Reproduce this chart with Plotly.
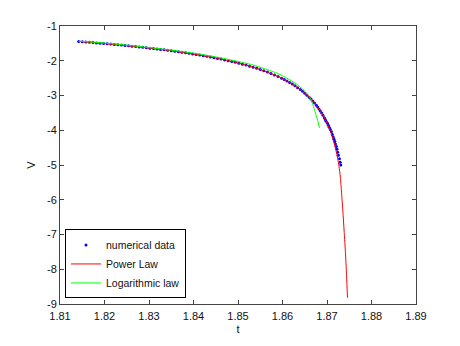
import plotly.graph_objects as go

# ---- data ----
num_t = [1.8142, 1.8150, 1.8158, 1.8166, 1.8174, 1.8182, 1.8190, 1.8198, 1.8206, 1.8214,
         1.8222, 1.8230, 1.8238, 1.8246, 1.8254, 1.8262, 1.8270, 1.8278, 1.8286, 1.8294,
         1.8302, 1.8310, 1.8318, 1.8326, 1.8334, 1.8342, 1.8350, 1.8358, 1.8366, 1.8374,
         1.8382, 1.8390, 1.8398, 1.8406, 1.8414, 1.8422, 1.8430, 1.8438, 1.8446, 1.8454,
         1.8462, 1.8470, 1.8478, 1.8486, 1.8494, 1.8502, 1.8510, 1.8518, 1.8526, 1.8534,
         1.8542, 1.8550, 1.8558, 1.8566, 1.8574, 1.8582, 1.8590, 1.8598,
         1.8604, 1.8610, 1.8616, 1.8622, 1.8628, 1.8634, 1.8640,
         1.8645, 1.8650, 1.8655, 1.8660,
         1.8664, 1.8668, 1.8672, 1.8676,
         1.8679, 1.8682, 1.8685, 1.8688, 1.8691, 1.8694,
         1.8696, 1.8698, 1.8701, 1.8703, 1.8705, 1.87075, 1.8710, 1.8712,
         1.8714, 1.87157, 1.87175, 1.8719, 1.8721, 1.87225, 1.8724, 1.87255,
         1.8728, 1.87295, 1.8731]
num_V = [-1.445, -1.453, -1.461, -1.469, -1.477, -1.486, -1.494, -1.504, -1.512, -1.521,
         -1.531, -1.540, -1.550, -1.560, -1.571, -1.581, -1.592, -1.603, -1.614, -1.625,
         -1.637, -1.649, -1.661, -1.674, -1.687, -1.700, -1.713, -1.727, -1.742, -1.757,
         -1.772, -1.787, -1.803, -1.820, -1.837, -1.855, -1.873, -1.892, -1.912, -1.932,
         -1.952, -1.975, -1.997, -2.021, -2.045, -2.071, -2.098, -2.125, -2.155, -2.186,
         -2.218, -2.252, -2.288, -2.325, -2.365, -2.408, -2.454, -2.502,
         -2.542, -2.582, -2.626, -2.672, -2.721, -2.774, -2.830,
         -2.880, -2.934, -2.991, -3.052,
         -3.104, -3.159, -3.219, -3.283,
         -3.334, -3.388, -3.445, -3.506, -3.571, -3.640,
         -3.690, -3.741, -3.795, -3.853, -3.913, -3.978, -4.046, -4.119,
         -4.197, -4.260, -4.325, -4.395, -4.469, -4.547, -4.631, -4.721,
         -4.818, -4.923, -5.000]

power_t = [1.8142, 1.8180, 1.8220, 1.8260, 1.8300, 1.8340, 1.8380, 1.8420, 1.8460, 1.8500,
           1.8530, 1.8560, 1.8590, 1.8610, 1.8630, 1.8645, 1.8660, 1.8672, 1.8682, 1.8692,
           1.8700, 1.8708, 1.8714, 1.8720, 1.8724, 1.8727, 1.8730, 1.8733, 1.8736, 1.8739,
           1.8742, 1.8744, 1.8746]
power_V = [-1.445, -1.484, -1.529, -1.578, -1.634, -1.696, -1.768, -1.850, -1.948, -2.064,
           -2.170, -2.297, -2.454, -2.582, -2.738, -2.880, -3.052, -3.219, -3.388, -3.593,
           -3.795, -4.046, -4.281, -4.574, -4.818, -5.037, -5.35, -5.85, -6.40, -7.00,
           -7.65, -8.20, -8.82]

log_t = [1.8142, 1.8200, 1.8250, 1.8300, 1.8350, 1.8400, 1.8450, 1.8500, 1.8530, 1.8560,
         1.8590, 1.8610, 1.8630, 1.8645, 1.8655, 1.8662, 1.8667, 1.8672, 1.8676, 1.8680,
         1.8683]
log_V = [-1.435, -1.49, -1.55, -1.62, -1.695, -1.78, -1.89, -2.02, -2.11, -2.23,
         -2.37, -2.50, -2.66, -2.81, -2.95, -3.06, -3.22, -3.42, -3.58, -3.76,
         -3.93]

x_ticks = [1.81, 1.82, 1.83, 1.84, 1.85, 1.86, 1.87, 1.88, 1.89]
x_tick_labels = ["1.81", "1.82", "1.83", "1.84", "1.85", "1.86", "1.87", "1.88", "1.89"]
y_ticks = [-1, -2, -3, -4, -5, -6, -7, -8, -9]
y_tick_labels = ["-1", "-2", "-3", "-4", "-5", "-6", "-7", "-8", "-9"]

FONT = "Liberation Sans, Arial, Helvetica, sans-serif"
AX = "#444444"
TXT = "#111111"

fig = go.Figure()
fig.add_trace(go.Scatter(x=num_t, y=num_V, mode="markers", name="numerical data",
                         marker=dict(color="#0000ff", size=3, symbol="circle",
                                     line=dict(width=0))))
fig.add_trace(go.Scatter(x=power_t, y=power_V, mode="lines", name="Power Law",
                         line=dict(color="#ff0000", width=1, shape="spline", smoothing=0.6)))
fig.add_trace(go.Scatter(x=log_t, y=log_V, mode="lines", name="Logarithmic law",
                         line=dict(color="#00ff00", width=1, shape="spline", smoothing=0.6)))

axis_common = dict(showline=True, linecolor=AX, linewidth=1, mirror="ticks",
                   ticks="inside", ticklen=4, tickcolor=AX, tickwidth=1,
                   showgrid=False, zeroline=False,
                   tickfont=dict(family=FONT, size=11, color=TXT))

fig.update_xaxes(range=[1.81, 1.89], tickvals=x_ticks, ticktext=x_tick_labels,
                 ticklabelstandoff=2,
                 title=dict(text="t", font=dict(family=FONT, size=11, color=TXT),
                            standoff=4),
                 **axis_common)
fig.update_yaxes(range=[-9, -1], tickvals=y_ticks, ticktext=y_tick_labels,
                 title=dict(text="V", font=dict(family=FONT, size=11, color=TXT),
                            standoff=9),
                 **axis_common)

fig.update_layout(
    width=460, height=346,
    margin=dict(l=60, r=44, t=26, b=38),
    paper_bgcolor="white", plot_bgcolor="white",
    font=dict(family=FONT, size=11, color=TXT),
    legend=dict(x=0.014, y=0.02, xanchor="left", yanchor="bottom",
                bgcolor="white", bordercolor="#000000", borderwidth=1,
                font=dict(family=FONT, size=10.5, color=TXT),
                tracegroupgap=0, itemwidth=30),
    showlegend=True,
)

fig.write_html("out.html",
               config={"displayModeBar": False},
               post_script="document.body.style.margin='0';document.body.style.overflow='hidden';")
